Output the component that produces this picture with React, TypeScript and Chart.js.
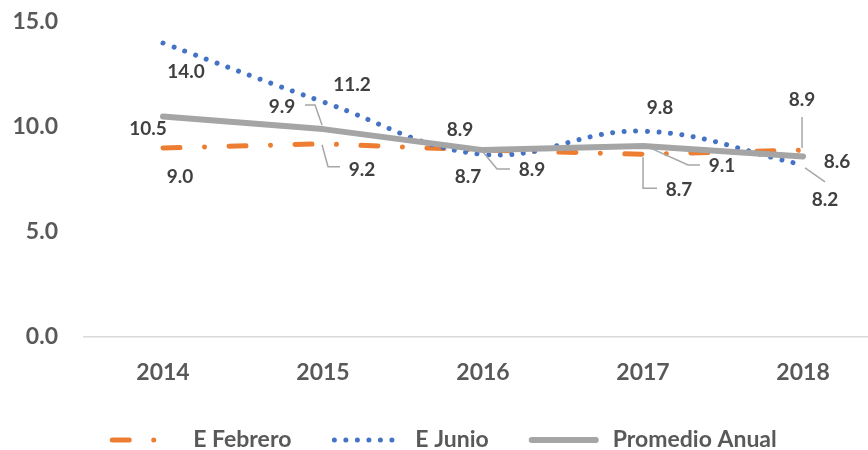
import React, { useEffect, useRef } from 'react';
import { Chart, registerables } from 'chart.js';

Chart.register(...registerables);

// ---- Data ----
const years = [2014, 2015, 2016, 2017, 2018];
const febrero = [9.0, 9.2, 8.9, 8.7, 8.9];
const junio = [14.0, 11.2, 8.7, 9.8, 8.2];
const promedio = [10.5, 9.9, 8.9, 9.1, 8.6];
const yTicks = [0, 5, 10, 15];
const seriesNames = ['E Febrero', 'E Junio', 'Promedio Anual'];

// ---- Label placement (pixel offsets from each point; style only) ----
type LabelPos = { dx: number; dy: number; leader?: number[][] };
const febreroLabels: LabelPos[] = [
  { dx: 17, dy: 29 },
  { dx: 39, dy: 26, leader: [[-1, 1], [5, 23], [17, 23]] },
  { dx: -23, dy: -20 },
  { dx: 36, dy: 36, leader: [[0, 3], [0, 34], [14, 34]] },
  { dx: -1, dy: -50, leader: [[-1, -33], [-1, -2]] },
];
const junioLabels: LabelPos[] = [
  { dx: 23, dy: 29 },
  { dx: 29, dy: -17 },
  { dx: -15, dy: 23 },
  { dx: 17, dy: -23 },
  { dx: 22, dy: 35, leader: [[2, 3], [22, 17]] },
];
const promedioLabels: LabelPos[] = [
  { dx: -15, dy: 12 },
  { dx: -41, dy: -22, leader: [[-18, -24], [-8, -24], [-1, -4]] },
  { dx: 49, dy: 20, leader: [[0, 2], [14, 19], [27, 19]] },
  { dx: 79, dy: 20, leader: [[7, 2], [45, 19], [57, 19]] },
  { dx: 34, dy: 5 },
];
const labelSets = [febreroLabels, junioLabels, promedioLabels];

const FONT = 'Lato, "Open Sans", sans-serif';
const TICK_COLOR = '#595959';
const LABEL_COLOR = '#404040';

const valueLabelsPlugin = {
  id: 'valueLabels',
  afterDatasetsDraw(chart: any) {
    const ctx = chart.ctx as CanvasRenderingContext2D;
    ctx.save();
    chart.data.datasets.forEach((ds: any, di: number) => {
      const meta = chart.getDatasetMeta(di);
      const layout = labelSets[di];
      meta.data.forEach((pt: any, i: number) => {
        const L = layout[i];
        if (!L) return;
        const x = pt.x;
        const y = pt.y;
        if (L.leader) {
          ctx.beginPath();
          ctx.setLineDash([]);
          ctx.strokeStyle = '#A6A6A6';
          ctx.lineWidth = 1.5;
          L.leader.forEach(([lx, ly], k) => {
            if (k === 0) ctx.moveTo(x + lx, y + ly);
            else ctx.lineTo(x + lx, y + ly);
          });
          ctx.stroke();
        }
        ctx.fillStyle = LABEL_COLOR;
        ctx.font = `bold 19px ${FONT}`;
        ctx.textAlign = 'center';
        ctx.textBaseline = 'middle';
        ctx.fillText(Number(ds.data[i].y).toFixed(1), x + L.dx, y + L.dy);
      });
    });
    ctx.restore();
  },
};

const customLegendPlugin = {
  id: 'customLegend',
  afterDraw(chart: any) {
    const ctx = chart.ctx as CanvasRenderingContext2D;
    ctx.save();
    ctx.font = `bold 23px ${FONT}`;
    const sampleW = 70;
    const sampleGap = 14;
    const itemGap = 40;
    const widths = chart.data.datasets.map((ds: any) => ctx.measureText(ds.label).width);
    const total = widths.reduce((a: number, w: number) => a + w + sampleW + sampleGap, 0) + itemGap * (widths.length - 1);
    let x = chart.width / 2 + 9 - total / 2;
    const y = 440;
    chart.data.datasets.forEach((ds: any, i: number) => {
      ctx.beginPath();
      ctx.strokeStyle = ds.borderColor;
      ctx.lineWidth = ds.borderWidth;
      ctx.lineCap = 'round';
      ctx.setLineDash(ds.borderDash || []);
      ctx.moveTo(x + 3, y);
      ctx.lineTo(x + sampleW - 3, y);
      ctx.stroke();
      ctx.setLineDash([]);
      x += sampleW + sampleGap;
      ctx.fillStyle = TICK_COLOR;
      ctx.textAlign = 'left';
      ctx.textBaseline = 'middle';
      ctx.fillText(ds.label, x, y);
      x += widths[i] + itemGap;
    });
    ctx.restore();
  },
};

export default function App() {
  const canvasRef = useRef<HTMLCanvasElement | null>(null);

  useEffect(() => {
    const canvas = canvasRef.current;
    if (!canvas) return;
    const toPoints = (vals: number[]) => years.map((x, i) => ({ x, y: vals[i] }));
    const chart = new Chart(canvas, {
      type: 'line',
      data: {
        datasets: [
          {
            label: seriesNames[0],
            data: toPoints(febrero),
            borderColor: '#ED7D31',
            backgroundColor: '#ED7D31',
            borderWidth: 5,
            borderDash: [17, 24.5, 0.01, 24.5],
            borderCapStyle: 'round',
            pointRadius: 0,
            tension: 0,
            fill: false,
            order: 2,
          },
          {
            label: seriesNames[1],
            data: toPoints(junio),
            borderColor: '#4472C4',
            backgroundColor: '#4472C4',
            borderWidth: 5,
            borderDash: [0.01, 11.5],
            borderCapStyle: 'round',
            pointRadius: 0,
            tension: 0.4,
            fill: false,
            order: 1,
          },
          {
            label: seriesNames[2],
            data: toPoints(promedio),
            borderColor: '#A5A5A5',
            backgroundColor: '#A5A5A5',
            borderWidth: 6,
            borderCapStyle: 'round',
            borderJoinStyle: 'round',
            pointRadius: 0,
            tension: 0,
            fill: false,
            order: 0,
          },
        ] as any,
      },
      options: {
        animation: false,
        responsive: false,
        devicePixelRatio: 1,
        layout: { padding: { top: 22, right: 0, left: 0, bottom: 0 } },
        plugins: {
          legend: { display: false },
          tooltip: { enabled: false },
        },
        scales: {
          x: {
            type: 'linear',
            min: 2013.5,
            max: 2018.406,
            afterBuildTicks: (scale: any) => {
              scale.ticks = years.map((v) => ({ value: v }));
            },
            afterFit: (scale: any) => {
              scale.height = 113;
              scale.paddingLeft = 0;
              scale.paddingRight = 0;
            },
            grid: { display: false, drawTicks: false },
            border: { display: false },
            ticks: {
              autoSkip: false,
              maxRotation: 0,
              padding: 22,
              color: TICK_COLOR,
              font: { family: FONT, size: 23, weight: 'bold' },
              callback: (v: any) => String(v),
            },
          },
          y: {
            min: 0,
            max: 15,
            afterBuildTicks: (scale: any) => {
              scale.ticks = yTicks.map((v) => ({ value: v }));
            },
            afterFit: (scale: any) => {
              scale.width = 83;
              scale.paddingTop = 0;
              scale.paddingBottom = 0;
            },
            grid: {
              drawTicks: false,
              lineWidth: 1.5,
              color: (c: any) => (c.tick && c.tick.value === 0 ? '#D9D9D9' : 'rgba(0,0,0,0)'),
            },
            border: { display: false },
            ticks: {
              padding: 25,
              color: TICK_COLOR,
              font: { family: FONT, size: 23, weight: 'bold' },
              callback: (v: any) => Number(v).toFixed(1),
            },
          },
        },
      } as any,
      plugins: [valueLabelsPlugin, customLegendPlugin],
    });
    return () => chart.destroy();
  }, []);

  return (
    <div style={{ position: 'absolute', left: 0, top: 0, width: 868, height: 450, background: '#fff' }}>
      <canvas ref={canvasRef} width={868} height={450} style={{ display: 'block' }} />
    </div>
  );
}
